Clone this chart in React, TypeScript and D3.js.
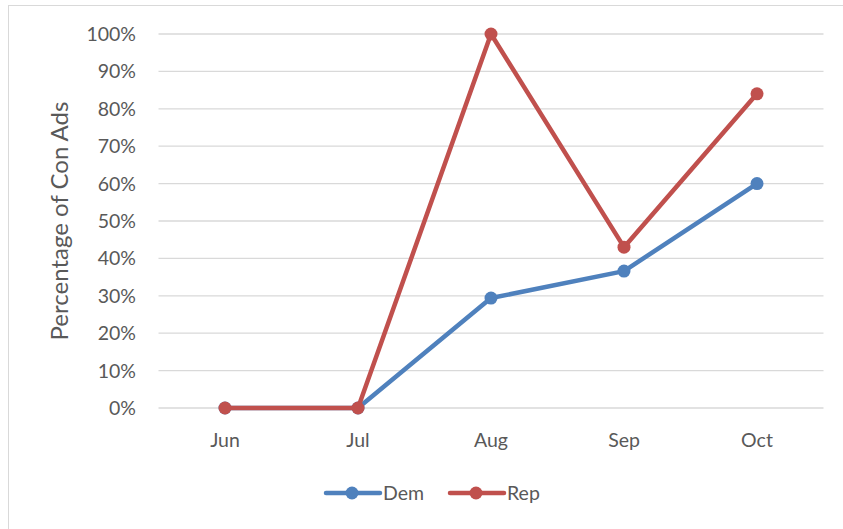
import React from "react";
import * as d3 from "d3";

const months = ["Jun", "Jul", "Aug", "Sep", "Oct"];
const demValues = [0, 0, 0.294, 0.366, 0.6];
const repValues = [0, 0, 1.0, 0.43, 0.84];
const yTicks = [0, 0.1, 0.2, 0.3, 0.4, 0.5, 0.6, 0.7, 0.8, 0.9, 1.0];

const W = 843;
const H = 529;
const FONT = "Lato, 'Open Sans', 'Liberation Sans', sans-serif";
const TEXT = "#595959";
const GRID = "#d9d9d9";

const series = [
  { name: "Dem", values: demValues, color: "#4F81BD" },
  { name: "Rep", values: repValues, color: "#C0504D" },
];

export default function App() {
  const x = d3.scaleBand<string>().domain(months).range([158.5, 823.5]);
  const y = d3.scaleLinear().domain([0, 1]).range([408, 34]);
  const cx = (m: string) => (x(m) ?? 0) + x.bandwidth() / 2;
  const line = d3
    .line<number>()
    .x((_, i) => cx(months[i]))
    .y((v) => y(v));

  const legendX = [324, 448];

  return (
    <svg
      width={W}
      height={H}
      style={{ position: "absolute", left: 0, top: 0, background: "#fff" }}
    >
      <rect x={8.5} y={5.5} width={W} height={H} fill="#fff" stroke="#d9d9d9" strokeWidth={1} />
      {yTicks.map((t) => (
        <g key={t}>
          <line x1={158.5} x2={823.5} y1={y(t)} y2={y(t)} stroke={GRID} strokeWidth={1.3} />
          <text
            x={136}
            y={y(t)}
            dy="0.36em"
            textAnchor="end"
            fontFamily={FONT}
            fontSize={19.5}
            fill={TEXT}
          >
            {d3.format(".0%")(t)}
          </text>
        </g>
      ))}
      {months.map((m) => (
        <text
          key={m}
          x={cx(m)}
          y={447}
          textAnchor="middle"
          fontFamily={FONT}
          fontSize={19.5}
          fill={TEXT}
        >
          {m}
        </text>
      ))}
      <text
        transform={`translate(68,221) rotate(-90)`}
        textAnchor="middle"
        fontFamily={FONT}
        fontSize={24}
        fill={TEXT}
      >
        Percentage of Con Ads
      </text>
      {series.map((s) => (
        <g key={s.name}>
          <path
            d={line(s.values) ?? ""}
            fill="none"
            stroke={s.color}
            strokeWidth={4.5}
            strokeLinejoin="round"
            strokeLinecap="round"
          />
          {s.values.map((v, i) => (
            <circle key={i} cx={cx(months[i])} cy={y(v)} r={6.5} fill={s.color} />
          ))}
        </g>
      ))}
      {series.map((s, i) => (
        <g key={s.name} transform={`translate(${legendX[i]},493)`}>
          <line x1={2} x2={56} y1={0} y2={0} stroke={s.color} strokeWidth={4.5} strokeLinecap="round" />
          <circle cx={28} cy={0} r={6.5} fill={s.color} />
          <text x={59} y={0} dy="0.36em" fontFamily={FONT} fontSize={19.5} fill={TEXT}>
            {s.name}
          </text>
        </g>
      ))}
    </svg>
  );
}
